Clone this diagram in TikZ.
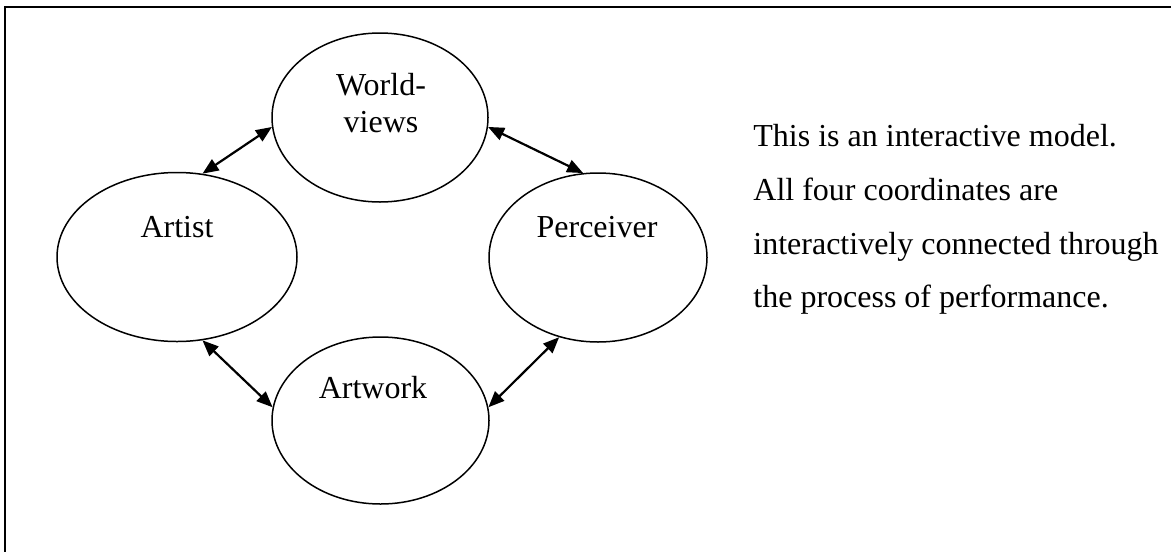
\documentclass[tikz,border=0pt]{standalone}
\usepackage{fontspec}
\setmainfont{Liberation Serif}
\usepackage{tikz}
\usetikzlibrary{arrows.meta,shapes.geometric}

\begin{document}
\begin{tikzpicture}[
  x=0.5pt, y=-0.5pt,
  font=\fontsize{16}{18.5}\selectfont,
  oval/.style={ellipse, draw=black, line width=0.75pt, inner sep=0pt,
               minimum height=84.5pt},
  lbl/.style={anchor=base, inner sep=0pt, align=center},
  note/.style={anchor=base west, inner sep=0pt},
  arr/.style={{Triangle[length=8pt,width=6.5pt]}-{Triangle[length=8pt,width=6.5pt]},
              line width=1.1pt},
]
\useasboundingbox (0,0) rectangle (1171,552);

%% ---- Frame ----
\coordinate (frametop) at (1171,7);
\coordinate (framecorner) at (5,7);
\coordinate (framebot) at (5,552);
\draw[line width=1.3pt] (frametop) -- (framecorner) -- (framebot);

%% ---- Ellipses ----
\node[oval, minimum width=120pt]   (artist)  at (177, 257)   {};
\node[oval, minimum width=108pt]   (views)   at (380, 117.5) {};
\node[oval, minimum width=109pt]   (percv)   at (598, 257.5) {};
\node[oval, minimum width=108.5pt, minimum height=83.5pt]
                                   (artwork) at (380.5, 420.5) {};

%% ---- Labels ----
\node[lbl] (artistlbl)  at (177, 237) {Artist};
\node[lbl] (viewslbl)   at (381, 132) {World-\\views};
\node[lbl] (percvlbl)   at (597, 237) {Perceiver};
\node[lbl] (artworklbl) at (373, 398) {Artwork};

%% ---- Arrows ----
\draw[arr] (artist.73) -- (views.185);
\draw[arr] (views.355) -- (percv.100);
\draw[arr] (artist.287) -- (artwork.173);
\draw[arr] (artwork.7) -- (percv.244);

%% ---- Note ----
\node[note] (line1) at (753, 146) {This is an interactive model.};
\node[note] (line2) at (753, 200) {All four coordinates are};
\node[note] (line3) at (753, 254) {interactively connected through};
\node[note] (line4) at (753, 307) {the process of performance.};

\end{tikzpicture}
\end{document}
